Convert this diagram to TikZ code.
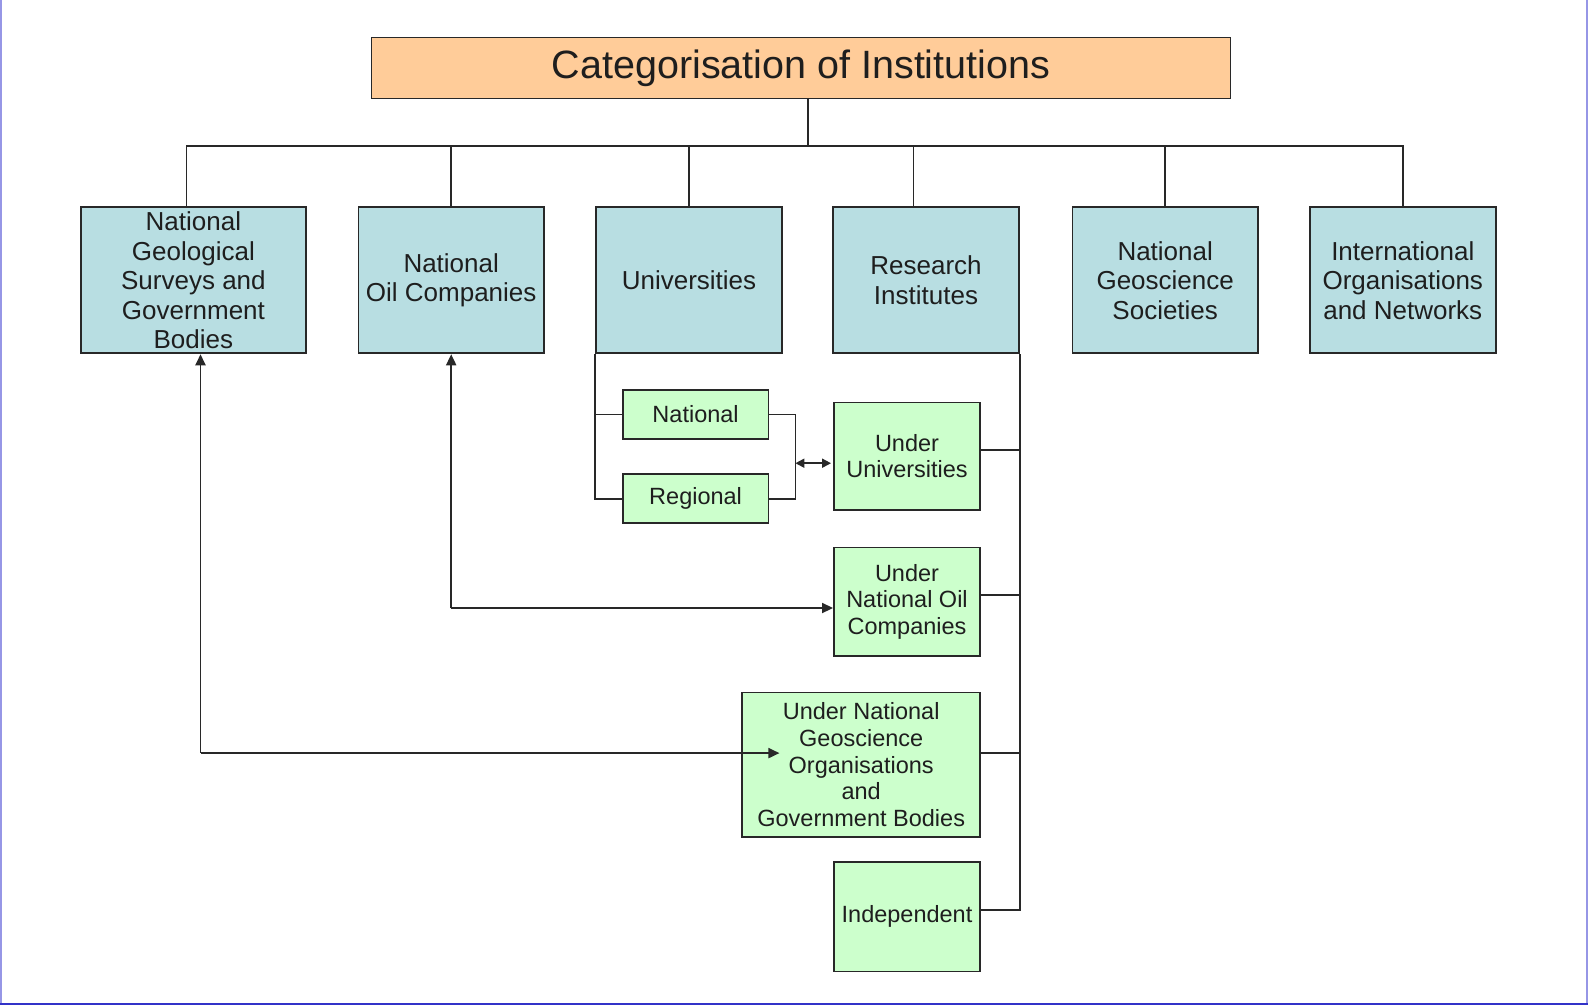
\documentclass[tikz,border=0pt]{standalone}
\usepackage{fontspec}
\setmainfont{Liberation Sans}
\usetikzlibrary{arrows.meta,calc}
\definecolor{bluefill}{RGB}{184,222,226}
\definecolor{greenfill}{RGB}{204,255,204}
\definecolor{orangefill}{RGB}{255,204,153}
\definecolor{linec}{RGB}{40,40,40}
\definecolor{txtc}{RGB}{30,30,30}
\definecolor{framel}{RGB}{150,150,230}
\definecolor{frameb}{RGB}{50,50,200}
\tikzset{
  base/.style={draw=linec, line width=1.9pt, inner sep=0pt, align=center, text=txtc},
  titlebox/.style={base, fill=orangefill, font=\fontsize{39.5}{46}\selectfont},
  bluebox/.style={base, fill=bluefill, minimum width=185.5pt, minimum height=146pt, font=\fontsize{26}{29.5}\selectfont},
  greenbox/.style={base, fill=greenfill, minimum width=146pt, font=\fontsize{23.5}{26.7}\selectfont},
  conn/.style={draw=linec, line width=1.8pt},
  arr/.style={conn, -{Triangle[length=11pt,width=10pt]}},
  darr/.style={conn, {Triangle[length=9pt,width=9pt]}-{Triangle[length=9pt,width=9pt]}}
}
\begin{document}
\begin{tikzpicture}[x=1pt,y=-1pt]
\useasboundingbox (0,0) rectangle (1588,1007);
\fill[white] (0,0) rectangle (1588,1007);
% frame
\draw[framel, line width=2pt] (1,0) -- (1,1004);
\draw[framel, line width=2pt] (1587,0) -- (1587,1004);
\draw[frameb, line width=2.5pt] (0,1004) -- (1588,1004);

% title
\node[titlebox, minimum width=859pt, minimum height=61pt] (title) at (801,68) {Categorisation of Institutions};

% top level
\node[bluebox, minimum width=224.8pt] (ngs) at (193.4,280.3) {National\\Geological\\Surveys and\\Government\\Bodies};
\node[bluebox] (noc) at (451.2,280.3) {National\\Oil Companies};
\node[bluebox] (uni) at (689,280.3) {Universities};
\node[bluebox] (res) at (926,280.3) {Research\\Institutes};
\node[bluebox] (soc) at (1165.2,280.3) {National\\Geoscience\\Societies};
\node[bluebox] (intl) at (1402.8,280.3) {International\\Organisations\\and Networks};

% second level
\node[greenbox, minimum width=145.7pt, minimum height=49pt] (nat) at (695.6,414.5) {National};
\node[greenbox, minimum width=145.7pt, minimum height=49pt] (reg) at (695.6,498.8) {Regional};
\node[greenbox, minimum height=107.5pt] (uu) at (907,456.2) {Under\\Universities};
\node[greenbox, minimum height=108.5pt] (unoc) at (907,601.7) {Under\\National Oil\\Companies};
\node[greenbox, minimum width=237.6pt, minimum height=144.2pt] (ungo) at (861.2,764.6) {Under National\\Geoscience\\Organisations\\and\\Government Bodies};
\node[greenbox, minimum height=109.5pt] (ind) at (907,916.7) {Independent};

% tree from title
\coordinate (bus) at (0,146);
\draw[conn] ([xshift=7pt]title.south) -- ([xshift=7pt]title.south |- bus);
\draw[conn] ([xshift=-7pt]ngs.north) -- ([xshift=-7pt]ngs.north |- bus) -| (intl.north);
\draw[conn] (noc.north) -- (noc.north |- bus);
\draw[conn] (uni.north) -- (uni.north |- bus);
\draw[conn] ([xshift=-12.5pt]res.north) -- ([xshift=-12.5pt]res.north |- bus);
\draw[conn] (soc.north) -- (soc.north |- bus);

% universities branches
\draw[conn] (uni.south west) |- (reg.west);
\draw[conn] (nat.west) -- (nat.west -| uni.south west);
\coordinate (brk) at ($(nat.east)+(26,0)$);
\draw[conn] (nat.east) -- (brk) |- (reg.east);
\draw[darr] ($(uu.west -| brk)+(0,7)$) -- ($(uu.west)+(-2,7)$);

% research branches
\draw[conn] (res.south east) |- ([yshift=6.7pt]ind.east);
\draw[conn] ([yshift=6pt]uu.east) -- ([yshift=6pt]uu.east -| res.south east);
\draw[conn] ([yshift=6.7pt]unoc.east) -- ([yshift=6.7pt]unoc.east -| res.south east);
\draw[conn] ([yshift=11.3pt]ungo.east) -- ([yshift=11.3pt]ungo.east -| res.south east);

% cross links
\coordinate (tipn) at ($(unoc.west)+(0,6.3)$);
\coordinate (cornn) at (noc.south |- tipn);
\draw[arr] (cornn) -- (noc.south);
\draw[arr] (cornn) -- (tipn);
\coordinate (tipg) at ($(ungo.west)+(38,-11.5)$);
\coordinate (corng) at ([xshift=7.1pt]ngs.south |- tipg);
\draw[arr] (corng) -- ([xshift=7.1pt]ngs.south);
\draw[arr] (corng) -- (tipg);
\end{tikzpicture}
\end{document}
